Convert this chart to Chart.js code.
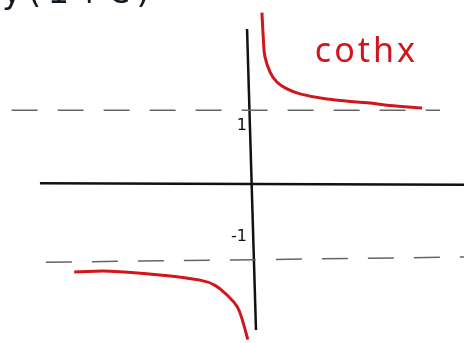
<!DOCTYPE html>
<html>
<head>
<meta charset="utf-8">
<script src="https://cdn.jsdelivr.net/npm/chart.js@4/dist/chart.umd.min.js"></script>
<style>
  html, body { margin: 0; padding: 0; background: #fff; }
  #wrap { width: 464px; height: 343px; }
</style>
</head>
<body>
<div id="wrap"><canvas id="grafico" width="464" height="343"></canvas></div>
<script>
// Rama derecha de coth x (x > 0)
const ramaDerX = [0.16, 0.18, 0.20, 0.27, 0.36, 0.49, 0.67, 1.03, 1.57, 1.92, 2.31];
const ramaDerY = [2.30, 1.93, 1.71, 1.50, 1.37, 1.28, 1.21, 1.14, 1.09, 1.05, 1.02];

// Rama izquierda (x < 0)
const ramaIzqX = [-2.36, -1.88, -1.21, -0.67, -0.47, -0.31, -0.17, -0.09, -0.03];
const ramaIzqY = [-1.18, -1.17, -1.22, -1.29, -1.36, -1.49, -1.65, -1.87, -2.09];

// Ejes dibujados a mano (ligeramente inclinados)
const ejeX = [[-2.82, 0.01], [2.88, -0.01]];
const ejeY = [[-0.04, 2.08], [0.08, -1.96]];

// Asíntotas y = 1 e y = -1
const asintotaSup = [[-3.20, 0.99], [2.55, 0.99]];
const asintotaInf = [[-2.74, -1.05], [2.88, -0.98]];

// Marcas del eje y
const ticksValores = [1, -1];
const ticksTextos = ["1", "-1"];

const rotulo = "cothx";

const aPuntos = (xs, ys) => xs.map((x, i) => ({ x: x, y: ys[i] }));
const aPares = (arr) => arr.map(p => ({ x: p[0], y: p[1] }));

// Textos: marcas del eje y el nombre de la curva
const textos = {
  id: "textos",
  afterDatasetsDraw(chart) {
    const ctx = chart.ctx;
    const sx = chart.scales.x, sy = chart.scales.y;
    ctx.save();
    ctx.fillStyle = "#111";
    ctx.font = "16px 'DejaVu Sans'";
    ctx.textAlign = "right";
    ctx.textBaseline = "middle";
    ticksValores.forEach((v, i) => {
      const px = sx.getPixelForValue(0) - 3;
      const py = sy.getPixelForValue(v) + (v > 0 ? 16 : -22);
      ctx.fillText(ticksTextos[i], px, py);
    });
    ctx.fillStyle = "#d1161b";
    ctx.font = "34px 'Noto Sans'";
    ctx.letterSpacing = "3px";
    ctx.textAlign = "left";
    ctx.textBaseline = "alphabetic";
    ctx.fillText(rotulo, sx.getPixelForValue(0.87), sy.getPixelForValue(1.64));
    // Encabezado cortado arriba
    ctx.letterSpacing = "6px";
    ctx.fillStyle = "#101820";
    ctx.font = "34px 'DejaVu Sans'";
    ctx.fillText("y(1+e)", 2, 3);
    ctx.restore();
  }
};

const negro = "#111";
const rojo = "#d1161b";

new Chart(document.getElementById("grafico"), {
  type: "scatter",
  data: {
    datasets: [
      { data: aPares(asintotaSup), showLine: true, borderColor: "#666", borderWidth: 1.5, borderDash: [26, 20], pointRadius: 0 },
      { data: aPares(asintotaInf), showLine: true, borderColor: "#666", borderWidth: 1.5, borderDash: [26, 20], pointRadius: 0 },
      { data: aPares(ejeX), showLine: true, borderColor: negro, borderWidth: 2.5, pointRadius: 0 },
      { data: aPares(ejeY), showLine: true, borderColor: negro, borderWidth: 2.5, pointRadius: 0 },
      { data: aPuntos(ramaDerX, ramaDerY), showLine: true, borderColor: rojo, borderWidth: 3, pointRadius: 0, tension: 0.4 },
      { data: aPuntos(ramaIzqX, ramaIzqY), showLine: true, borderColor: rojo, borderWidth: 3, pointRadius: 0, tension: 0.4 }
    ]
  },
  options: {
    responsive: false,
    animation: false,
    layout: { padding: 0 },
    plugins: { legend: { display: false }, tooltip: { enabled: false } },
    scales: {
      x: { type: "linear", min: -3.356, max: 2.872, display: false },
      y: { type: "linear", min: -2.134, max: 2.470, display: false }
    }
  },
  plugins: [textos]
});
</script>
</body>
</html>
